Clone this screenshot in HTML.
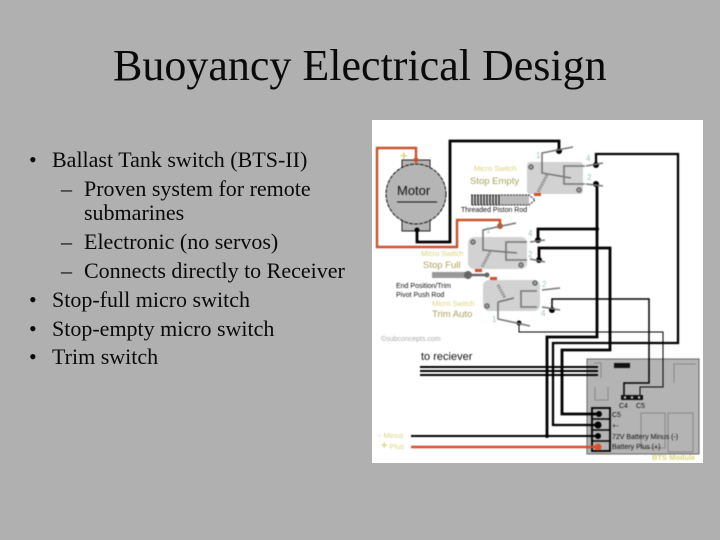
<!DOCTYPE html>
<html><head><meta charset="utf-8"><style>
html,body{margin:0;padding:0;background:#b0b0b0}
svg{display:block}
.s{font-family:"Liberation Serif",serif;fill:#0a0a0a}
.b{font-size:22px}
.d{font-family:"Liberation Sans",sans-serif}
.y{fill:#dcd47a}
.c{fill:#9fc0c4;font-size:8px}
.k{fill:#111}
.g{stroke:#777;stroke-width:1.6;fill:none}
.w{fill:none;stroke:#000;stroke-width:2.300}
.W{fill:none;stroke:#000;stroke-width:2.800}
</style></head><body>
<svg width="720" height="540" viewBox="0 0 720 540" xmlns="http://www.w3.org/2000/svg">
<rect width="720" height="540" fill="#b0b0b0"/>
<text class="s" x="113" y="80" font-size="44">Buoyancy Electrical Design</text>
<g class="s b">
<text x="29" y="167">•</text><text x="52" y="167">Ballast Tank switch (BTS-II)</text>
<text x="61" y="196">–</text><text x="84" y="196">Proven system for remote</text>
<text x="84" y="220">submarines</text>
<text x="61" y="249">–</text><text x="84" y="249">Electronic (no servos)</text>
<text x="61" y="278">–</text><text x="84" y="278">Connects directly to Receiver</text>
<text x="29" y="307">•</text><text x="52" y="307">Stop-full micro switch</text>
<text x="29" y="336">•</text><text x="52" y="336">Stop-empty micro switch</text>
<text x="29" y="364">•</text><text x="52" y="364">Trim switch</text>
</g>
<rect x="372" y="120" width="331" height="343" fill="#fff"/>
<g style="filter:blur(.4px)">
<!-- module -->
<rect x="587" y="359" width="112" height="95" fill="#b4b4b4" stroke="#666"/>
<g fill="none" stroke="#8a8a8a">
<path d="M674 383V364H696"/><path d="M595 387V400H608V387"/>
<rect x="641" y="413" width="24" height="35"/><rect x="668" y="413" width="25" height="39"/>
<path d="M594 363H601V378"/>
</g>
<rect x="614" y="363" width="16" height="5" fill="#111"/>
<rect x="621" y="395" width="22" height="5" fill="#111"/>
<g fill="#ccc"><circle cx="625" cy="397.500" r="1.200"/><circle cx="632" cy="397.500" r="1.200"/><circle cx="639" cy="397.500" r="1.200"/></g>
<rect x="592" y="408" width="18" height="43" fill="none" stroke="#000" stroke-width="1.800"/>
<path d="M592 419H610M592 430H610M592 441H610" stroke="#000" stroke-width="1.500"/>
<!-- switches -->
<rect x="527" y="162" width="56" height="32" rx="3" fill="#d2d2d2"/>
<rect x="468" y="237" width="59" height="32" rx="6" fill="#d2d2d2"/>
<rect x="483" y="280" width="57" height="31" rx="6" fill="#d2d2d2"/>
<!-- motor -->
<rect x="402" y="160" width="28" height="71" fill="#b5b5b5" stroke="#222"/>
<circle cx="416" cy="194" r="30" fill="#b5b5b5" stroke="#111" stroke-dasharray="4 1"/>
<text class="d k" x="397" y="195" font-size="13">Motor</text>
<path d="M397 202H437" stroke="#111"/>
<!-- orange wires -->
<path d="M416 160V148H377V247H457V220H500V226" fill="none" stroke="#c8502a" stroke-width="2.400"/>
<path d="M411 447H598" stroke="#d0502c" stroke-width="2.400"/>
<circle cx="416" cy="160" r="2.500" fill="#c8502a"/><circle cx="500" cy="226" r="3" fill="#c8502a"/>
<circle cx="598" cy="447" r="3.500" fill="#e0502c"/>
<!-- black wires -->
<path class="W" d="M417 230V242H450V141H559V151"/>
<path class="w" d="M596 165V154H678V343H553V425H598"/>
<path class="W" d="M597 184V337H547V436"/>
<path class="W" d="M597 229H538V240"/>
<path class="W" d="M539 260V248H610V350H562V414H599"/>
<path d="M552 310V299H649V383H624V395" fill="none" stroke="#000" stroke-width="1.500"/>
<path d="M519 323V332H663V387H640V395" fill="none" stroke="#000" stroke-width="1"/>
<path d="M420 367H598M420 371H598M420 375H598" stroke="#000" stroke-width="2"/>
<path d="M411 436H598" stroke="#000" stroke-width="2"/>
<g fill="#000">
<circle cx="417" cy="230" r="2.500"/><circle cx="559" cy="151" r="3"/><circle cx="596" cy="165" r="3"/><circle cx="596" cy="184" r="3"/><circle cx="597" cy="229" r="2"/><circle cx="538" cy="240" r="3"/><circle cx="539" cy="260" r="3"/><circle cx="552" cy="310" r="3"/><circle cx="519" cy="323" r="2.500"/><circle cx="547" cy="436" r="2"/><circle cx="599" cy="414" r="3"/><circle cx="598" cy="425" r="3.500"/><circle cx="598" cy="436" r="3"/>
</g>
<!-- switch internals -->
<g class="g">
<path d="M573 147L542 153V173L571 178"/><path d="M585 166H564V184H585"/><path d="M586 166L603 163M586 184L603 186"/>
<path d="M516 223L483 230V250L517 253"/><path d="M527 242H506V260H527"/><path d="M530 242L545 240M530 259L545 262"/>
<path d="M498 302L514 298M498 302V319L530 326"/><path d="M537 291H521V307H537"/><path d="M542 290L560 288M542 307L560 310"/>
</g>
<g fill="none" stroke="#888" stroke-width="3" stroke-dasharray="1.500 1">
<path d="M547 175L538 192M490 252L482 267M498 285L505 298"/>
</g>
<g fill="#999" stroke="#555"><circle cx="531" cy="167" r="2.200"/><circle cx="579" cy="190" r="2.200"/><circle cx="473" cy="242" r="2.200"/><circle cx="521" cy="265" r="2.200"/><circle cx="535" cy="283" r="2.200"/><circle cx="487" cy="306" r="2.200"/></g>
<g fill="#d0502c"><rect x="534" y="193" width="7" height="3"/><rect x="475" y="269" width="7" height="3"/><rect x="490" y="277" width="7" height="3"/></g>
<!-- pivot rod -->
<rect x="432" y="272" width="36" height="6" fill="#999"/>
<path d="M468 275H487" stroke="#666" stroke-width="2.500"/>
<circle cx="468" cy="275" r="4" fill="#666"/><circle cx="487" cy="275" r="2.500" fill="#666"/>
<!-- threaded rod -->
<rect x="471" y="195" width="58" height="10" fill="#bbb"/>
<path d="M472 195V205M475 195V205M478 195V205M481 195V205M484 195V205M487 195V205M490 195V205M493 195V205M496 195V205M499 195V205" stroke="#222"/>
<path d="M471 195H529L535 200L529 205H471" fill="none" stroke="#222" stroke-dasharray="2 1"/>
<!-- labels -->
<g class="d">
<text class="y" x="400" y="160" font-size="13" font-weight="bold">+</text>
<text class="k" x="461" y="212" font-size="7">Threaded Piston Rod</text>
<text class="y" x="474" y="171" font-size="7.500">Micro Switch</text>
<text x="470" y="184" font-size="9.500" fill="#aaa25a">Stop Empty</text>
<text class="y" x="421" y="256" font-size="7.500">Micro Switch</text>
<text x="423" y="268" font-size="9.500" fill="#aaa25a">Stop Full</text>
<text class="k" x="396" y="288" font-size="7">End Position/Trim</text>
<text class="k" x="396" y="297" font-size="7">Pivot Push Rod</text>
<text class="y" x="432" y="306" font-size="7.500">Micro Switch</text>
<text x="432" y="317" font-size="9.500" fill="#aaa25a">Trim Auto</text>
<text x="381" y="341" font-size="7" fill="#aaa">©subconcepts.com</text>
<text class="k" x="421" y="360" font-size="11">to reciever</text>
<text class="y" x="377" y="438" font-size="7.500">− Minus</text>
<text class="y" x="381" y="449" font-size="7.500"><tspan font-size="11" font-weight="bold">+</tspan> Plus</text>
<text class="y" x="652" y="460" font-size="7.500" font-weight="bold">BTS Module</text>
<g class="c"><text x="536" y="158">1</text><text x="586" y="161">4</text><text x="587" y="180">2</text><text x="486" y="233">1</text><text x="528" y="236">4</text><text x="528" y="257">2</text><text x="492" y="322">1</text><text x="542" y="287">2</text><text x="541" y="316">4</text></g>
<g class="k" font-size="7"><text x="619" y="408">C4</text><text x="636" y="408">C5</text><text x="612" y="417">C5</text><text x="612" y="428">+-</text><text x="612" y="439">72V Battery Minus (-)</text><text x="612" y="449">Battery Plus (+)</text></g>
</g>
</g>
</svg>
</body></html>
